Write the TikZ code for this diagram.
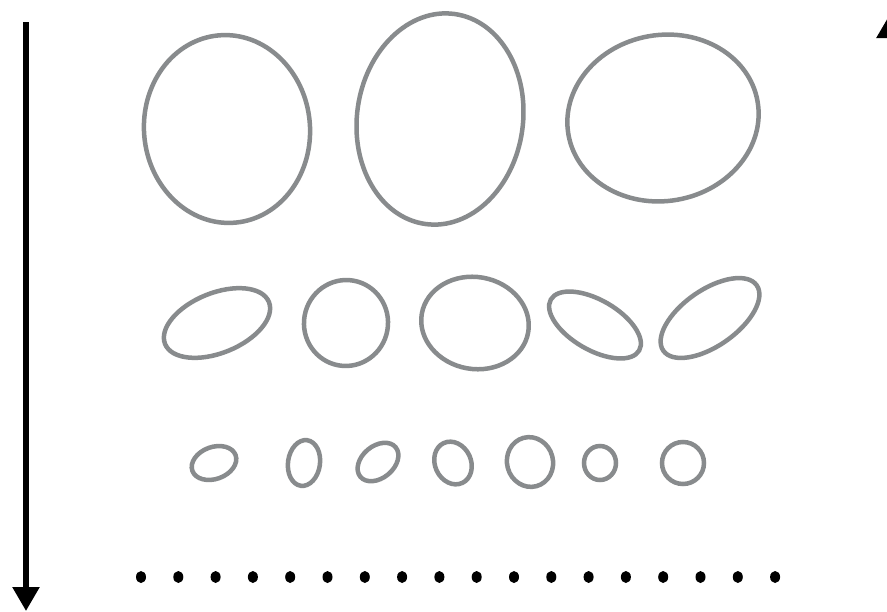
\documentclass[tikz,border=0pt]{standalone}
\usetikzlibrary{arrows.meta}

\definecolor{ringgray}{HTML}{888B8D}

\begin{document}
\begin{tikzpicture}[
    x=1pt, y=-1pt,
    ring/.style={draw=ringgray, line width=4.5pt},
    axisline/.style={line width=5.5pt, black,
        -{Triangle[length=24pt, width=26pt]}},
    dot/.style={fill=black},
]

% ---- Frame ----
\fill[white] (0,0) rectangle (887,611);
\useasboundingbox (0,0) rectangle (887,611);

% ---- Axis ends ----
\coordinate (ltop) at (26,22);
\coordinate (lbot) at (26,611);
\coordinate (rbot) at (890,611);
\coordinate (rtop) at (890,14);

% ---- Arrows at both sides ----
\draw[axisline] (ltop) -- (lbot);
\draw[axisline] (rbot) -- (rtop);

% ---- Top row: large rings ----
\draw[ring] (227,129) ellipse [x radius=83, y radius=94, rotate=5];
\draw[ring] (440,119) ellipse [x radius=83, y radius=106, rotate=-8];
\draw[ring] (663,118) ellipse [x radius=96, y radius=83, rotate=10];

% ---- Middle row: medium rings ----
\draw[ring] (217,323) ellipse [x radius=56, y radius=30, rotate=22];
\draw[ring] (346,323) ellipse [x radius=42, y radius=43, rotate=-10];
\draw[ring] (475,323) ellipse [x radius=54, y radius=46, rotate=-10];
\draw[ring] (595,325) ellipse [x radius=51, y radius=25, rotate=-30];
\draw[ring] (710,318) ellipse [x radius=57, y radius=28, rotate=35];

% ---- Bottom row: small rings ----
\draw[ring] (214,463) ellipse [x radius=23, y radius=16, rotate=20];
\draw[ring] (304,463) ellipse [x radius=16, y radius=23, rotate=-8];
\draw[ring] (378,462) ellipse [x radius=23, y radius=16, rotate=40];
\draw[ring] (453,463) ellipse [x radius=18, y radius=22, rotate=25];
\draw[ring] (530,462) ellipse [x radius=23, y radius=25, rotate=15];
\draw[ring] (600,463) ellipse [x radius=16, y radius=17];
\draw[ring] (683,463) ellipse [x radius=21, y radius=21];

% ---- Continuation dots ----
\foreach \i in {0,...,17}
    \fill[dot] ({141+37.3*\i},577) ellipse [x radius=5, y radius=6];

\end{tikzpicture}
\end{document}
